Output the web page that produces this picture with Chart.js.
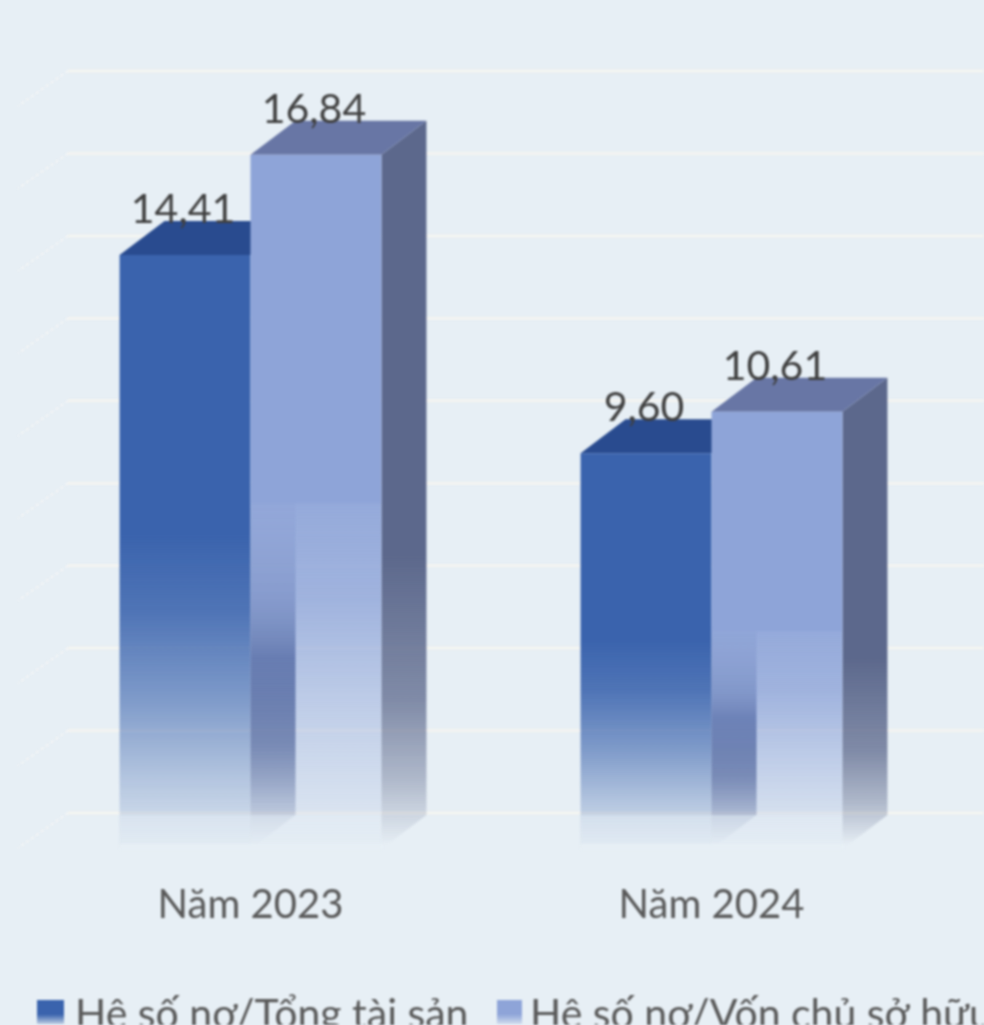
<!DOCTYPE html>
<html lang="vi">
<head>
<meta charset="utf-8">
<title>Hệ số nợ</title>
<script src="https://cdn.jsdelivr.net/npm/chart.js@4"></script>
<style>
html,body{margin:0;padding:0;background:#e7eff5;overflow:hidden;width:984px;height:1025px}
canvas{display:block;filter:blur(0.8px)}
</style>
</head>
<body>
<canvas id="c" width="984" height="1025"></canvas>
<script>
const categories = ["Năm 2023", "Năm 2024"];
const debtToAssets = [14.41, 9.60];
const debtToEquity = [16.84, 10.61];
const valueLabels1 = ["14,41", "9,60"];
const valueLabels2 = ["16,84", "10,61"];
const seriesNames = ["Hệ số nợ/Tổng tài sản", "Hệ số nợ/Vốn chủ sở hữu"];
const gridTicks = [0, 2, 4, 6, 8, 10, 12, 14, 16, 18];

const FONT = "Lato, 'Noto Sans', sans-serif";
const BG = [231,239,245];
const DX = 45, DY = 34;
const FRONT1_FADE = [[0,1],[0.47,1],[0.6,0.88],[0.75,0.6],[0.885,0.29],[1,0.05]];
const FRONT2_FADE = [[0,1],[0.5,1],[0.505,0.92],[0.64,0.8],[0.79,0.46],[0.9,0.24],[1,0.05]];
const SIDE1_FADE = [[0,0.1],[0.42,0.1],[0.7,1],[0.84,0.65],[0.94,0.22],[1,0]];
const SIDE2_FADE = [[0,1],[0.6,1],[0.8,0.74],[0.91,0.4],[1,0]];
const styles = [
  {front:[58,99,173], frontFade:FRONT1_FADE, side:[45,65,120], sideFade:SIDE1_FADE, top:[41,75,143], label:valueLabels1},
  {front:[142,164,216], frontFade:FRONT2_FADE, side:[92,104,140], sideFade:SIDE2_FADE, top:[104,118,165], label:valueLabels2}
];
const rgba = (c,a) => `rgba(${c[0]},${c[1]},${c[2]},${a})`;

function fadeGradient(ctx, yTop, yBottom, col, stops) {
  const g = ctx.createLinearGradient(0, yTop, 0, yBottom);
  stops.forEach(s => g.addColorStop(s[0], rgba(col, s[1])));
  return g;
}

function drawFaces(chart, index) {
  const {ctx} = chart;
  const st = styles[index];
  chart.getDatasetMeta(index).data.forEach(bar => {
    const l = bar.x - bar.width/2, r = bar.x + bar.width/2, t = bar.y, b = bar.base;
    // front face: opaque down to about half of the bar, then fading; geometry comes from the bar element.
    // Bars of a dataset share one options object, so each bar gets its own copy.
    bar.options = Object.assign({}, bar.options, {backgroundColor: fadeGradient(ctx, t, b, st.front, st.frontFade)});
    ctx.save();
    ctx.fillStyle = fadeGradient(ctx, t - DY, b - 4, st.side, st.sideFade);
    ctx.beginPath();
    ctx.moveTo(r, t); ctx.lineTo(r+DX, t-DY); ctx.lineTo(r+DX, b-DY); ctx.lineTo(r, b);
    ctx.closePath(); ctx.fill();
    ctx.fillStyle = rgba(st.top,1);
    ctx.beginPath();
    ctx.moveTo(l, t); ctx.lineTo(l+DX, t-DY); ctx.lineTo(r+DX, t-DY); ctx.lineTo(r, t);
    ctx.closePath(); ctx.fill();
    ctx.restore();
  });
}

const depthPlugin = {
  id: 'depth',
  beforeDatasetsDraw(chart) {
    const {ctx, scales:{y}, width} = chart;
    ctx.save();
    gridTicks.forEach(t => {
      const py = y.getPixelForValue(t);
      ctx.strokeStyle = 'rgba(247,245,240,0.9)';
      ctx.lineWidth = 2.5;
      ctx.beginPath(); ctx.moveTo(68, py - DY - 2); ctx.lineTo(width, py - DY - 2); ctx.stroke();
      ctx.setLineDash([3,3]);
      ctx.lineWidth = 1.5;
      ctx.strokeStyle = 'rgba(250,248,245,0.95)';
      ctx.beginPath(); ctx.moveTo(68, py - DY - 2); ctx.lineTo(18, py - 1); ctx.stroke();
      ctx.setLineDash([]);
    });
    ctx.restore();
  },
  // Chart.js paints the last dataset first; the second series has to lie over the first one's side face
  beforeDatasetDraw(chart, args) {
    if (args.index === 1) return false;
    drawFaces(chart, 0);
  },
  afterDatasetDraw(chart, args) {
    if (args.index === 0) {
      drawFaces(chart, 1);
      chart.getDatasetMeta(1).controller.draw();
    }
  },
  afterDatasetsDraw(chart) {
    const {ctx, data} = chart;
    ctx.save();
    // the floor washes out the part of each bar in front of the back wall
    chart.data.datasets.forEach((ds, i) => {
      chart.getDatasetMeta(i).data.forEach(bar => {
        const l = bar.x - bar.width/2, b = bar.base;
        ctx.fillStyle = rgba(BG, 0.5);
        ctx.fillRect(l, b - DY, bar.width, DY);
        ctx.fillStyle = rgba(BG, 1);
        ctx.fillRect(l, b - 5, bar.width + 1, 6);
      });
    });
    ctx.textBaseline = 'alphabetic';
    ctx.textAlign = 'center';
    ctx.font = `41px ${FONT}`;
    ctx.fillStyle = '#404040';
    data.datasets.forEach((ds, i) => {
      chart.getDatasetMeta(i).data.forEach((bar, k) => {
        ctx.fillText(styles[i].label[k], bar.x - 2, bar.y - 32);
      });
    });
    // legend, clipped by the bottom of the picture as in the reference
    const items = [{mx:37, mw:27, tx:75}, {mx:497, mw:25, tx:530}];
    ctx.textAlign = 'left';
    ctx.font = `41px ${FONT}`;
    items.forEach((it, i) => {
      const g = ctx.createLinearGradient(0, 1000, 0, 1024);
      g.addColorStop(0, rgba(styles[i].front,1));
      g.addColorStop(0.6, rgba(styles[i].front,1));
      g.addColorStop(1, rgba(styles[i].front,0.25));
      ctx.fillStyle = g;
      ctx.fillRect(it.mx, 1000, it.mw, 24);
      ctx.fillStyle = '#595959';
      ctx.fillText(seriesNames[i], it.tx, 1028);
    });
    ctx.restore();
  }
};

new Chart(document.getElementById('c'), {
  type: 'bar',
  data: {
    labels: categories,
    datasets: [
      {label: seriesNames[0], data: debtToAssets, backgroundColor: rgba(styles[0].front,1), borderWidth: 0},
      {label: seriesNames[1], data: debtToEquity, backgroundColor: rgba(styles[1].front,1), borderWidth: 0}
    ]
  },
  options: {
    responsive: false,
    animation: false,
    layout: {padding: {left: 20, right: 42, top: 107, bottom: 96}},
    datasets: {bar: {categoryPercentage: 0.568, barPercentage: 1}},
    plugins: {legend: {display: false}, tooltip: {enabled: false}},
    scales: {
      x: {
        grid: {display: false}, border: {display: false},
        ticks: {color: '#595959', font: {family: FONT, size: 40}, padding: 24, maxRotation: 0},
        afterFit(s) { s.height = 80; }
      },
      y: {display: false, min: 0, max: 18, ticks: {stepSize: 2}}
    }
  },
  plugins: [depthPlugin]
});
</script>
</body>
</html>
